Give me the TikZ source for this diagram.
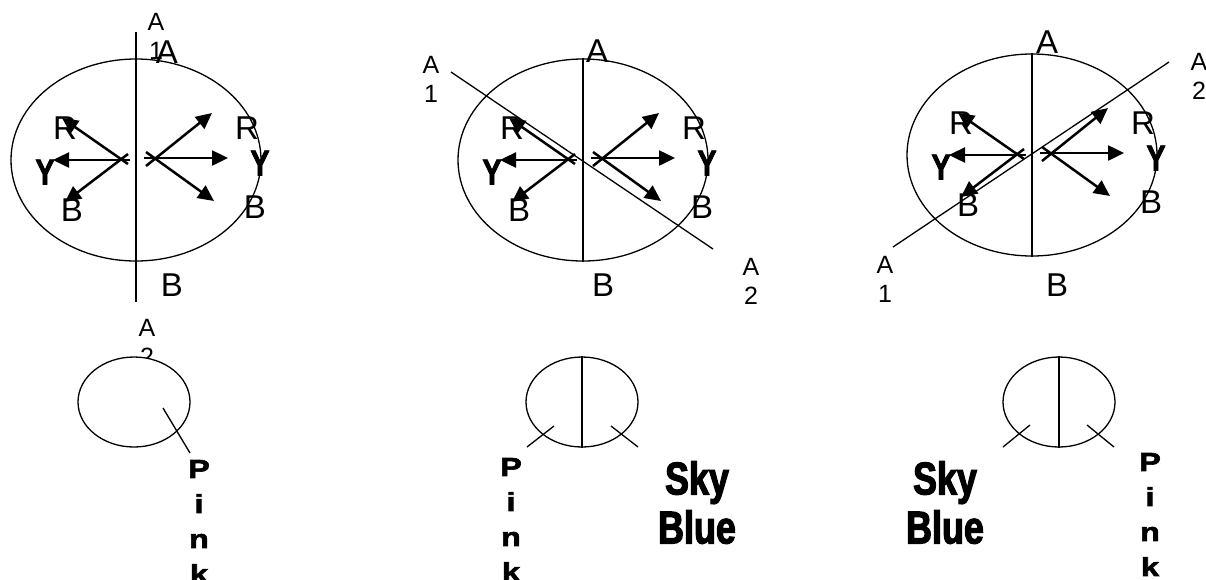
\documentclass[tikz,border=0pt]{standalone}
\usepackage{fontspec}
\setmainfont{Liberation Sans}
\newfontfamily\skyfont[FakeStretch=0.78,FakeBold=2.5]{Liberation Sans}
\newfontfamily\pinkfont[FakeStretch=1.25,FakeBold=2.5]{Liberation Sans}
\newfontfamily\yfont[FakeStretch=0.8,FakeBold=2]{Liberation Sans}
\usetikzlibrary{arrows.meta,shapes.geometric}
\newcommand\drawpanel[3]{%
\begin{scope}[shift={(#2,#3)}]
  \node[biglbl] (#1rl) at (65,128) {R};
  \node[boldlbl] (#1yl) at (45,172) {Y};
  \node[biglbl] (#1bl) at (72,210) {B};
  \node[biglbl] (#1rr) at (247,128) {R};
  \node[boldlbl] (#1yr) at (260,163) {Y};
  \node[biglbl] (#1br) at (255,207) {B};
  \node[bigell] (#1ell) at (136,160) {};
  \coordinate (#1s1) at (128,164); \coordinate (#1t1) at (62,118);
  \coordinate (#1s2) at (130,160); \coordinate (#1t2) at (53,160);
  \coordinate (#1s3) at (128,154); \coordinate (#1t3) at (65,202);
  \coordinate (#1s4) at (146,166); \coordinate (#1t4) at (212,113);
  \coordinate (#1s5) at (144,158); \coordinate (#1t5) at (228,158);
  \coordinate (#1s6) at (146,152); \coordinate (#1t6) at (214,201);
  \draw[vec] (#1s1) -- (#1t1);
  \draw[vec] (#1s2) -- (#1t2);
  \draw[vec] (#1s3) -- (#1t3);
  \draw[vec] (#1s4) -- (#1t4);
  \draw[vec] (#1s5) -- (#1t5);
  \draw[vec] (#1s6) -- (#1t6);
\end{scope}}
\begin{document}
\begin{tikzpicture}[x=1pt,y=-1pt,
  bigell/.style={draw, ellipse, line width=1.3pt, minimum width=250pt, minimum height=202pt, inner sep=0},
  smallell/.style={draw, ellipse, line width=1.3pt, minimum width=112pt, minimum height=90pt, inner sep=0, fill=white},
  axis/.style={line width=1.4pt},
  tick/.style={line width=1.3pt},
  vec/.style={line width=2.5pt, -{Triangle[length=16pt,width=15pt]}},
  biglbl/.style={font=\fontsize{33}{33}\selectfont, inner sep=0},
  boldlbl/.style={font=\yfont\bfseries\fontsize{36}{36}\selectfont, inner sep=0},
  smalllbl/.style={font=\fontsize{25}{29}\selectfont, align=center, inner sep=0},
  pinklbl/.style={font=\pinkfont\bfseries\fontsize{26}{35}\selectfont, align=center, inner sep=0},
  skylbl/.style={font=\skyfont\bfseries\fontsize{46}{49}\selectfont, align=center, inner sep=0},
]
\fill[white] (0,0) rectangle (1206,579);
\useasboundingbox (0,0) rectangle (1206,579);

% ---- panel 1 ----
\drawpanel{p}{0}{0}
\coordinate (v1top) at (136,32);
\coordinate (v1bot) at (136,302);
\draw[axis] (v1top) -- (v1bot);
\node[smalllbl] (pA1) at (156,36.5) {A\\1};
\node[biglbl] (pA) at (167,52) {A};
\node[biglbl] (pB) at (172,285) {B};
\node[smalllbl] (pA2) at (147,342.5) {A\\2};
\node[smallell] (ps) at (134,402) {};
\coordinate (pk1) at (163,408); \coordinate (pk2) at (190,453);
\draw[tick] (pk1) -- (pk2);
\node[pinklbl] (ppink) at (199,521.5) {P\\i\\n\\k};

% ---- panel 2 ----
\drawpanel{q}{447}{0}
\draw[axis] (qell.north) -- (qell.south);
\coordinate (d2a) at (451,72); \coordinate (d2b) at (713,249);
\draw[tick] (d2a) -- (d2b);
\node[smalllbl] (qA1) at (431,79.5) {A\\1};
\node[smalllbl] (qA2) at (751,281.5) {A\\2};
\node[biglbl] (qA) at (597,51) {A};
\node[biglbl] (qB) at (603,285) {B};
\node[smallell] (qs) at (582,402) {};
\draw[axis] (qs.north) -- (qs.south);
\coordinate (qk1) at (527,447); \coordinate (qk2) at (554,426);
\coordinate (qk3) at (611,426); \coordinate (qk4) at (638,447);
\draw[tick] (qk1) -- (qk2);
\draw[tick] (qk3) -- (qk4);
\node[pinklbl] (qpink) at (511,519.5) {P\\i\\n\\k};
\node[skylbl] (qsky) at (697,502.5) {Sky\\Blue};

% ---- panel 3 ----
\drawpanel{r}{896}{-5}
\draw[axis] (rell.north) -- (rell.south);
\coordinate (d3a) at (893,247); \coordinate (d3b) at (1169,62);
\draw[tick] (d3a) -- (d3b);
\node[smalllbl] (rA1) at (885,279.5) {A\\1};
\node[smalllbl] (rA2) at (1199,76.5) {A\\2};
\node[biglbl] (rA) at (1047,42) {A};
\node[biglbl] (rB) at (1057,285) {B};
\node[smallell] (rs) at (1059,402) {};
\draw[axis] (rs.north) -- (rs.south);
\coordinate (rk1) at (1003,447); \coordinate (rk2) at (1030,425);
\coordinate (rk3) at (1087,425); \coordinate (rk4) at (1114,447);
\draw[tick] (rk1) -- (rk2);
\draw[tick] (rk3) -- (rk4);
\node[pinklbl] (rpink) at (1150,514.5) {P\\i\\n\\k};
\node[skylbl] (rsky) at (945,502.5) {Sky\\Blue};
\end{tikzpicture}
\end{document}
